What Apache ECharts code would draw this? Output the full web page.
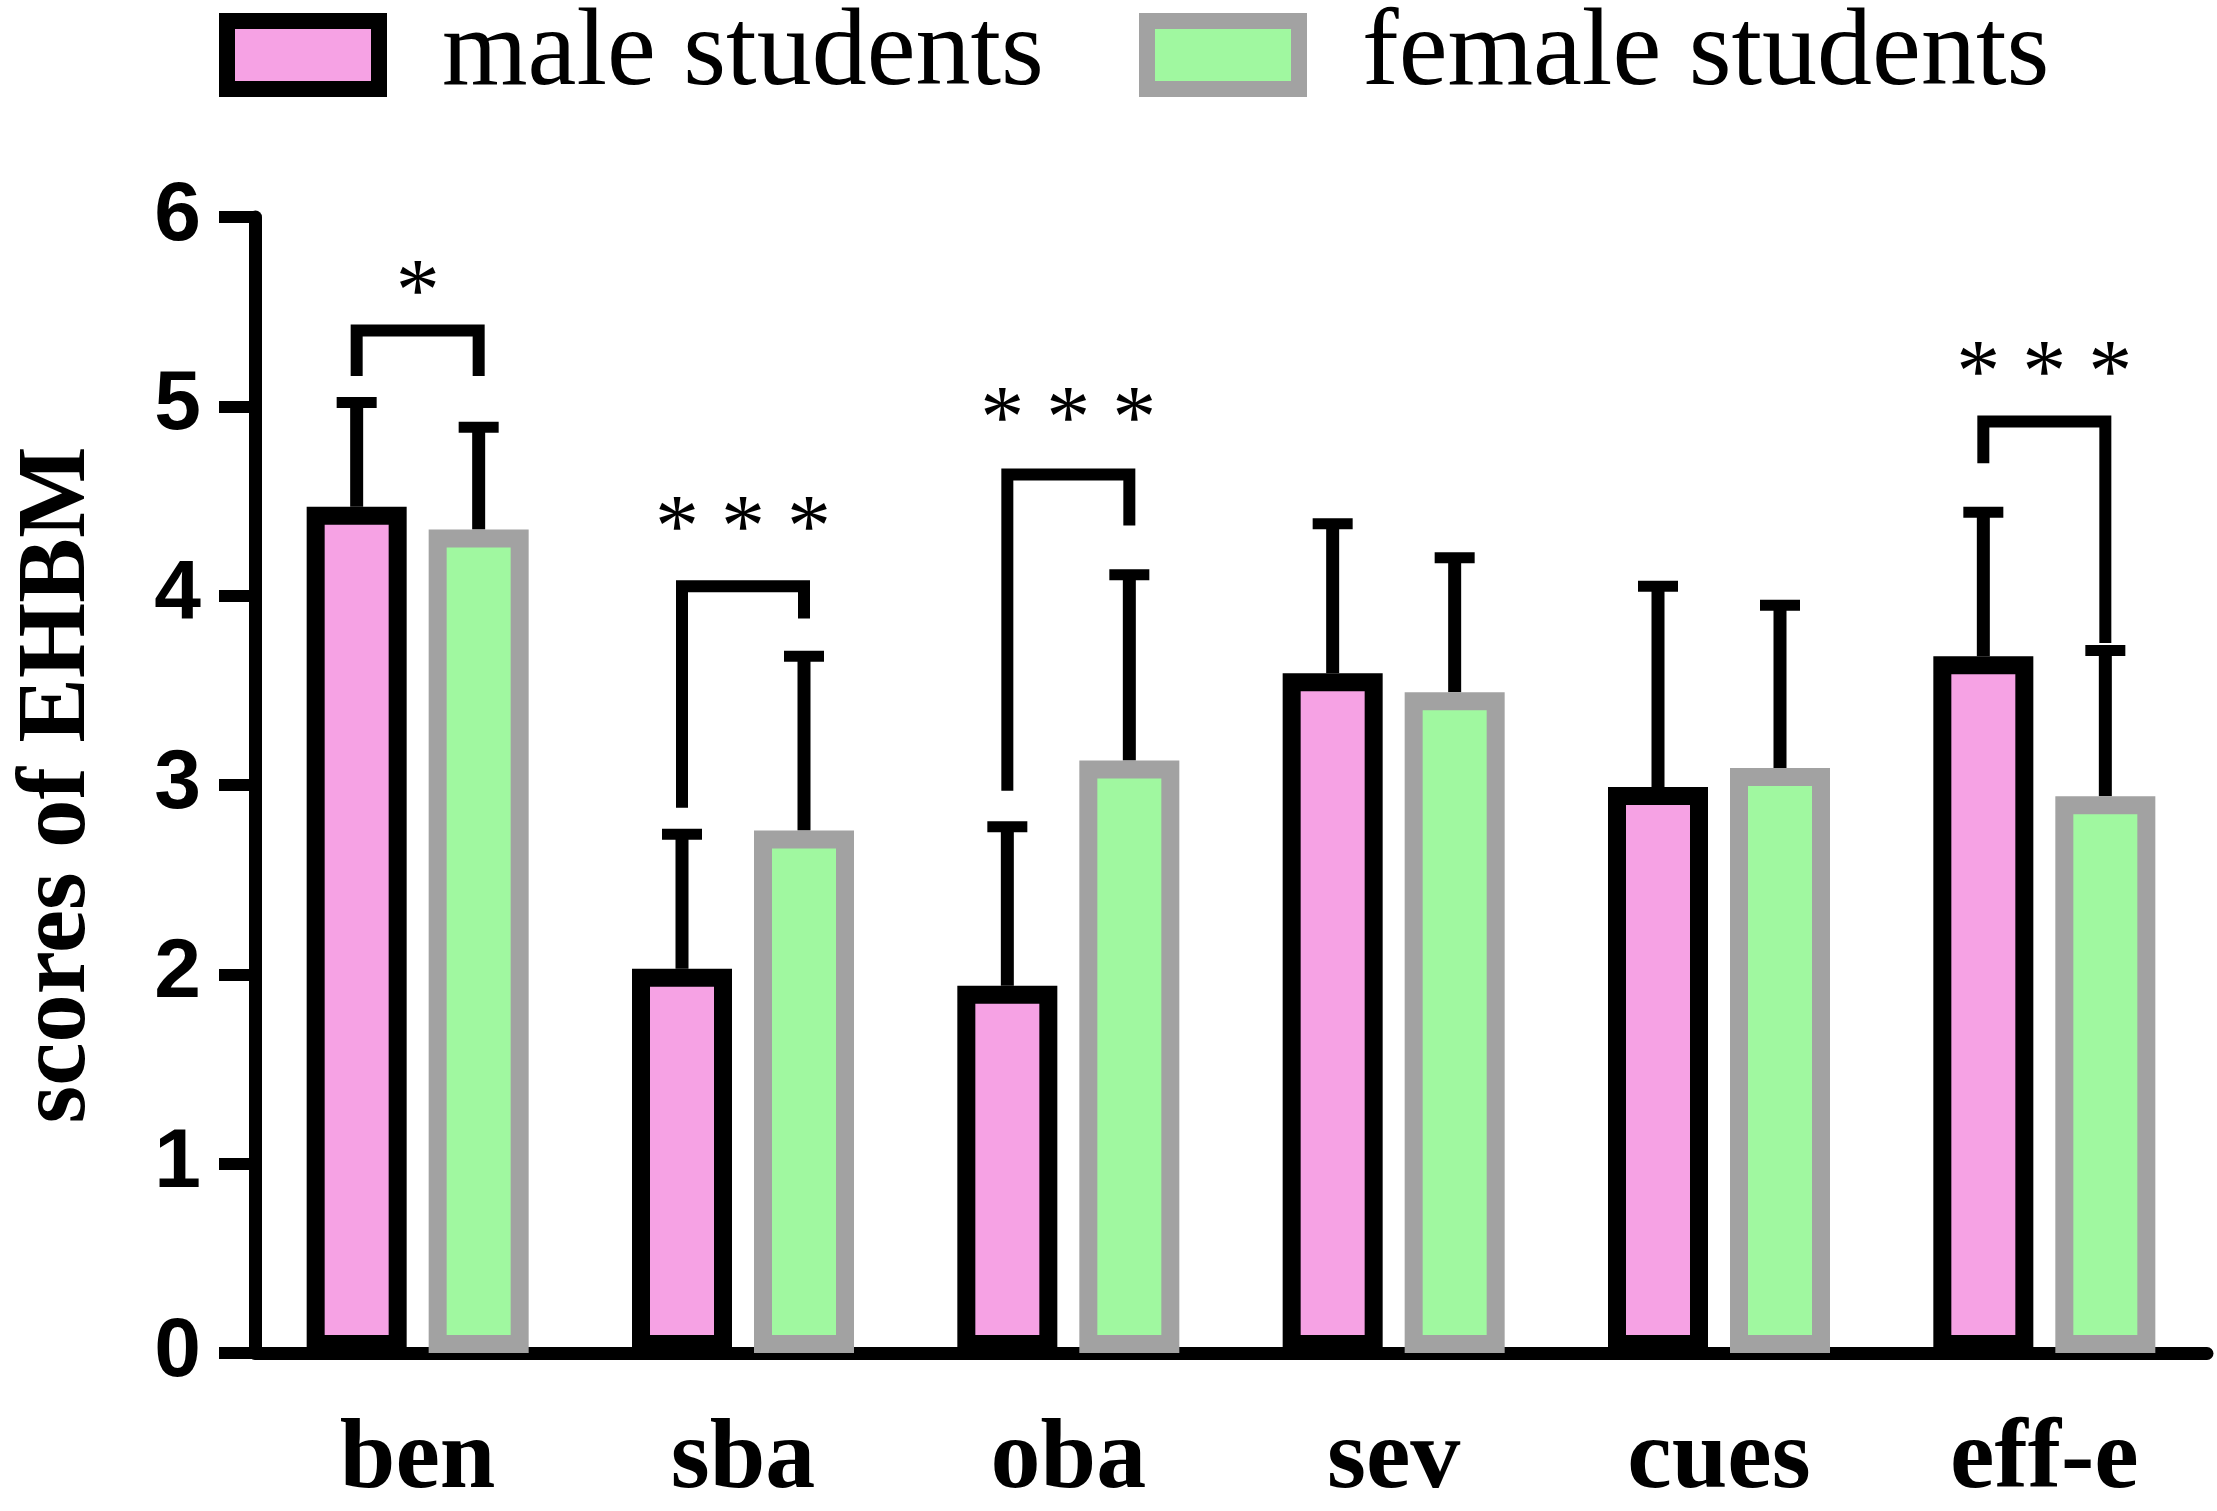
<!DOCTYPE html>
<html>
<head>
<meta charset="utf-8">
<title>scores of EHBM</title>
<script src="https://cdn.jsdelivr.net/npm/echarts@6/dist/echarts.min.js"></script>
<style>
html, body { margin: 0; padding: 0; background: #fff; }
#chart { width: 2217px; height: 1511px; }
</style>
</head>
<body>
<div id="chart"></div>
<script>
var categories = ['ben', 'sba', 'oba', 'sev', 'cues', 'eff-e'];
var maleMean = [4.47, 2.03, 1.94, 3.59, 2.99, 3.68];
var maleSd = [0.55, 0.71, 0.84, 0.79, 1.06, 0.76];
var femaleMean = [4.35, 2.76, 3.13, 3.49, 3.09, 2.94];
var femaleSd = [0.54, 0.92, 0.98, 0.71, 0.86, 0.77];
var yTicks = [0, 1, 2, 3, 4, 5, 6];

// significance brackets: category, bracket top, left leg end, right leg end, star level, stars
var sigCat = [0, 1, 2, 5];
var sigTop = [5.40, 4.05, 4.64, 4.92];
var sigLeft = [5.16, 2.88, 2.97, 4.70];
var sigRight = [5.16, 3.88, 4.37, 3.75];
var sigStarY = [5.69, 4.44, 5.02, 5.26];
var sigText = ['*', '* * *', '* * *', '* * *'];

var BAR_W = 100, BAR_GAP = 0.22;
var OFFSET = BAR_W * (1 + BAR_GAP) / 2;

var chart = echarts.init(document.getElementById('chart'));

function errData(mean, sd) {
    return mean.map(function (m, i) { return [i, m, m + sd[i]]; });
}

function errRender(side) {
    return function (params, api) {
        var base = api.coord([api.value(0), api.value(1)]);
        var top = api.coord([api.value(0), api.value(2)]);
        var x = base[0] + side * OFFSET;
        return {
            type: 'group',
            children: [{
                type: 'line',
                shape: { x1: x, y1: base[1], x2: x, y2: top[1] },
                style: { stroke: '#000', lineWidth: 13 }
            }, {
                type: 'line',
                shape: { x1: x - 20, y1: top[1], x2: x + 20, y2: top[1] },
                style: { stroke: '#000', lineWidth: 11 }
            }]
        };
    };
}

var sigData = sigCat.map(function (c, i) {
    return [c, sigTop[i], sigLeft[i], sigRight[i], sigStarY[i], sigText[i]];
});

function legendBox(name, left) {
    return {
        data: [{ name: name, icon: 'rect' }],
        left: left, top: 0, padding: 0,
        itemWidth: 152, itemHeight: 68,
        itemStyle: { borderWidth: 16 },
        textStyle: { fontFamily: 'Liberation Serif', fontSize: 110, color: '#000', padding: [0, 0, 0, 58] }
    };
}

var option = {
    backgroundColor: '#fff',
    animation: false,
    legend: [legendBox('male students', 219), legendBox('female students', 1139)],
    grid: { left: 255, right: 10, top: 217, bottom: 140 },
    xAxis: {
        type: 'category',
        data: categories,
        axisLine: { lineStyle: { color: '#000', width: 13 } },
        axisTick: { alignWithLabel: true, length: 33, lineStyle: { color: '#000', width: 12 } },
        axisLabel: { fontFamily: 'Liberation Serif', fontWeight: 'bold', fontSize: 100, color: '#000', margin: 58 }
    },
    yAxis: {
        type: 'value',
        min: 0, max: 6, interval: 1,
        name: 'scores of EHBM',
        nameLocation: 'middle',
        nameRotate: 90,
        nameGap: 148,
        nameTextStyle: { fontFamily: 'Liberation Serif', fontWeight: 'bold', fontSize: 97, color: '#000' },
        axisLine: { show: true, lineStyle: { color: '#000', width: 13 } },
        axisTick: { show: true, length: 36, lineStyle: { color: '#000', width: 12 } },
        splitLine: { show: false },
        axisLabel: {
            fontFamily: 'Liberation Sans', fontWeight: 'bold', fontSize: 84, color: '#000', margin: 54,
            formatter: function (v) { return yTicks.indexOf(v) >= 0 ? String(v) : ''; }
        }
    },
    series: [{
        name: 'male students',
        type: 'bar',
        data: maleMean,
        barWidth: BAR_W,
        barGap: (BAR_GAP * 100) + '%',
        itemStyle: { color: '#f6a2e4', borderColor: '#000', borderWidth: 18 },
        z: 3
    }, {
        name: 'female students',
        type: 'bar',
        data: femaleMean,
        barWidth: BAR_W,
        itemStyle: { color: '#a0f8a0', borderColor: '#a2a2a2', borderWidth: 18 },
        z: 3
    }, {
        type: 'custom',
        data: errData(maleMean, maleSd),
        renderItem: errRender(-1),
        z: 2, silent: true
    }, {
        type: 'custom',
        data: errData(femaleMean, femaleSd),
        renderItem: errRender(1),
        z: 2, silent: true
    }, {
        type: 'custom',
        data: sigData,
        z: 4, silent: true,
        renderItem: function (params, api) {
            var c = api.value(0);
            var top = api.coord([c, api.value(1)]);
            var l = api.coord([c, api.value(2)]);
            var r = api.coord([c, api.value(3)]);
            var s = api.coord([c, api.value(4)]);
            var xl = top[0] - OFFSET, xr = top[0] + OFFSET;
            return {
                type: 'group',
                children: [{
                    type: 'polyline',
                    shape: { points: [[xl, l[1]], [xl, top[1]], [xr, top[1]], [xr, r[1]]] },
                    style: { stroke: '#000', lineWidth: 12, fill: null, lineJoin: 'miter' }
                }, {
                    type: 'text',
                    x: s[0], y: s[1] + 20,
                    style: {
                        text: sigData[params.dataIndex][5],
                        fontFamily: 'Liberation Serif', fontSize: 88, fill: '#000',
                        align: 'center', verticalAlign: 'middle'
                    }
                }]
            };
        }
    }]
};

chart.setOption(option);
</script>
</body>
</html>
